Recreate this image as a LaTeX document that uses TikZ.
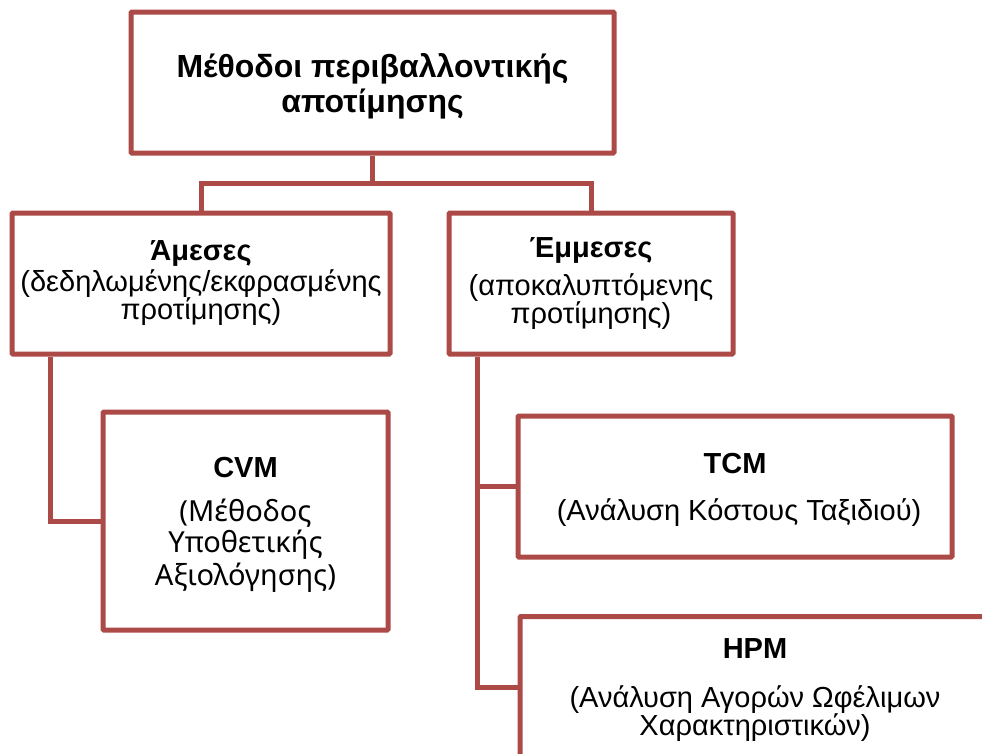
\documentclass[tikz,border=0pt]{standalone}
\usepackage{fontspec}
\setmainfont{Liberation Sans}
\newfontfamily\cvmfont{Noto Sans}
\usetikzlibrary{positioning}
\definecolor{rojo}{RGB}{172,74,71}
\tikzset{
	x=1pt, y=-1pt, % Coordenadas en pixeles, eje y hacia abajo
	caja/.style={draw=rojo, line width=5pt, rounded corners=1pt, align=center, inner sep=0pt,
		font=\fontsize{29}{28}\selectfont}, % Propiedades de las cajas
	rama/.style={draw=rojo, line width=5pt}, % Conectores entre cajas
	titulo/.style={font=\fontsize{32}{35}\selectfont\bfseries} % Texto de la caja principal
}

\begin{document}
\begin{tikzpicture}
	\useasboundingbox (0,0) rectangle (982,753);
	\clip (0,0) rectangle (982,753);
	\node[caja, titulo, minimum width=483, minimum height=141, text depth=-1pt] (raiz) at (372.5,82.5) {Μέθοδοι περιβαλλοντικής\\αποτίμησης};
	\node[caja, minimum width=378, minimum height=141] (directas) at (201,283.5) {\textbf{Άμεσες}\\[3pt](δεδηλωμένης/εκφρασμένης\\προτίμησης)};
	\node[caja, minimum width=284, minimum height=141] (indirectas) at (591,283.5) {\textbf{Έμμεσες}\\[10pt](αποκαλυπτόμενης\\προτίμησης)};
	\node[caja, minimum width=285, minimum height=218, text depth=-1pt] (cvm) at (245.5,521) {\textbf{CVM}\\[16pt]\cvmfont(Μέθοδος\\[2pt]\cvmfont Υποθετικής\\[2pt]\cvmfont Αξιολόγησης)};
	\node[caja, minimum width=434, minimum height=141, text depth=-10pt] (tcm) at (735,486.5) {\textbf{TCM}\\[19pt]\ (Ανάλυση Κόστους Ταξιδιού)};
	\node[caja, minimum width=470, minimum height=141, text depth=-16pt] (hpm) at (755,687) {\textbf{HPM}\\[21pt](Ανάλυση Αγορών Ωφέλιμων\\Χαρακτηριστικών)};
	\coordinate[below=28pt of raiz.south] (nudo);
	\coordinate (ejeA) at (50,0);
	\coordinate (ejeB) at (477,0);
	\draw[rama] (raiz.south) -- (nudo);
	\draw[rama] (directas.north) |- (nudo) -| (indirectas.north);
	\draw[rama] (directas.south -| ejeA) |- (cvm.west);
	\draw[rama] (indirectas.south -| ejeB) |- (hpm.west);
	\draw[rama] (tcm.west -| ejeB) -- (tcm.west);
\end{tikzpicture}
\end{document}
